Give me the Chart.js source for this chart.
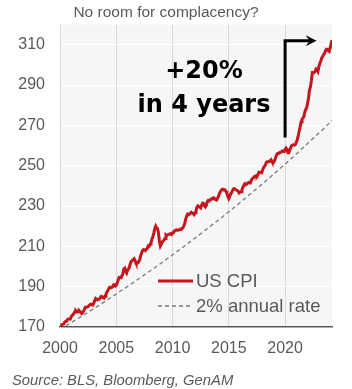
<!DOCTYPE html>
<html>
<head>
<meta charset="utf-8">
<script src="https://cdn.jsdelivr.net/npm/chart.js@4"></script>
<style>
  html, body { margin: 0; padding: 0; background: #ffffff; }
  #wrap { width: 352px; height: 389px; position: relative; }
</style>
</head>
<body>
<div id="wrap"><canvas id="c" width="352" height="389"></canvas></div>
<script>
// US CPI-U (1982-84 = 100), monthly from Jan 2000 to Mar 2024
const startYear = 2000;
const cpiIndex = [
  168.8, 169.8, 171.2, 171.3, 171.5, 172.4, 172.8, 172.8, 173.7, 174.0, 174.1, 174.0,
  175.1, 175.8, 176.2, 176.9, 177.7, 178.0, 177.5, 177.5, 178.3, 177.7, 177.4, 176.7,
  177.1, 177.8, 178.8, 179.8, 179.8, 179.9, 180.1, 180.7, 181.0, 181.3, 181.3, 180.9,
  181.7, 183.1, 184.2, 183.8, 183.5, 183.7, 183.9, 184.6, 185.2, 185.0, 184.5, 184.3,
  185.2, 186.2, 187.4, 188.0, 189.1, 189.7, 189.4, 189.5, 189.9, 190.9, 191.0, 190.3,
  190.7, 191.8, 193.3, 194.6, 194.4, 194.5, 195.4, 196.4, 198.8, 199.2, 197.6, 196.8,
  198.3, 198.7, 199.8, 201.5, 202.5, 202.9, 203.5, 203.9, 202.9, 201.8, 201.5, 201.8,
  202.4, 203.5, 205.4, 206.7, 207.9, 208.4, 208.3, 207.9, 208.5, 208.9, 210.2, 210.0,
  211.1, 211.7, 213.5, 214.8, 216.6, 218.8, 220.0, 219.1, 218.8, 216.6, 212.4, 210.2,
  211.1, 212.2, 212.7, 213.2, 213.9, 215.7, 215.4, 215.8, 216.0, 216.2, 216.3, 215.9,
  216.7, 216.7, 217.6, 218.0, 218.2, 218.0, 218.0, 218.3, 218.4, 218.7, 218.8, 219.2,
  220.2, 221.3, 223.5, 224.9, 226.0, 225.7, 225.9, 226.5, 226.9, 226.4, 226.2, 225.7,
  226.7, 227.7, 229.4, 230.1, 229.8, 229.5, 229.1, 230.4, 231.4, 231.3, 230.2, 229.6,
  230.3, 232.2, 232.8, 232.5, 232.9, 233.5, 233.6, 233.9, 234.1, 233.5, 233.1, 233.0,
  233.9, 234.8, 236.3, 237.1, 237.9, 238.3, 238.3, 237.9, 238.0, 237.4, 236.2, 234.8,
  233.7, 234.7, 236.1, 236.6, 237.8, 238.6, 238.7, 238.3, 237.9, 237.8, 237.3, 236.5,
  236.9, 237.1, 238.1, 239.3, 240.2, 241.0, 240.6, 240.8, 241.4, 241.7, 241.4, 241.4,
  242.8, 243.6, 243.8, 244.5, 244.7, 245.0, 244.8, 245.5, 246.8, 246.7, 246.7, 246.5,
  247.9, 249.0, 249.6, 250.5, 251.6, 252.0, 252.0, 252.1, 252.4, 252.9, 252.0, 251.2,
  251.7, 252.8, 254.2, 255.5, 256.1, 256.1, 256.6, 256.6, 256.8, 257.3, 257.2, 257.0,
  258.0, 258.7, 258.1, 256.4, 256.4, 257.8, 259.1, 259.9, 260.3, 260.4, 260.2, 260.5,
  261.6, 263.0, 264.9, 267.1, 269.2, 271.7, 273.0, 273.6, 274.3, 276.6, 277.9, 278.8,
  281.1, 283.7, 287.5, 289.1, 292.3, 296.3, 296.3, 296.2, 296.8, 298.0, 297.7, 296.8,
  299.2, 300.8, 301.8, 303.4, 304.1, 305.1, 305.7, 307.0, 307.8, 307.7, 307.1, 306.7,
  308.4, 310.3, 312.3
];

// Same starting level compounded at 2% a year, sampled each January plus the final month
const trendYears = [2000, 2001, 2002, 2003, 2004, 2005, 2006, 2007, 2008, 2009, 2010, 2011, 2012,
  2013, 2014, 2015, 2016, 2017, 2018, 2019, 2020, 2021, 2022, 2023, 2024, 2024 + 2 / 12];
const trendValues = [168.8, 172.2, 175.6, 179.1, 182.7, 186.4, 190.1, 193.9, 197.8, 201.7, 205.8, 209.9, 214.1,
  218.4, 222.7, 227.2, 231.7, 236.4, 241.1, 245.9, 250.8, 255.8, 261.0, 266.2, 271.5, 272.4];

const yTicks = [170, 190, 210, 230, 250, 270, 290, 310];
const xTicks = [2000, 2005, 2010, 2015, 2020];

const titleText = 'No room for complacency?';
const sourceText = 'Source: BLS, Bloomberg, GenAM';
const calloutLines = ['+20%', 'in 4 years'];
// Arrow path in data units: up from 2020, then right
const arrowFrom = { x: 2020, y: 264 };
const arrowCorner = { x: 2020, y: 312 };
const arrowTo = { x: 2022.8, y: 312 };

const RED = '#c4161c';
const GREY_TXT = '#595959';
const FONT = "'Liberation Sans', Arial, sans-serif";

const cpiPoints = cpiIndex.map((v, i) => ({ x: startYear + i / 12, y: v }));
const trendPoints = trendYears.map((x, i) => ({ x: x, y: trendValues[i] }));
const xMax = startYear + (cpiIndex.length - 1) / 12;

const decorPlugin = {
  id: 'decor',
  beforeDraw(chart) {
    const { ctx, chartArea: a } = chart;
    ctx.save();
    ctx.fillStyle = '#f6f6f6';
    ctx.fillRect(a.left, a.top, a.right - a.left, a.bottom - a.top);
    ctx.restore();
  },
  afterDraw(chart) {
    const { ctx, scales } = chart;
    const xs = scales.x, ys = scales.y;
    ctx.save();

    // title
    ctx.fillStyle = GREY_TXT;
    ctx.font = '15.5px ' + FONT;
    ctx.textAlign = 'center';
    ctx.textBaseline = 'alphabetic';
    ctx.fillText(titleText, 166, 17);

    // source note
    ctx.font = 'italic 14.8px ' + FONT;
    ctx.textAlign = 'left';
    ctx.fillText(sourceText, 12, 385);

    // call-out arrow
    const p0 = { x: xs.getPixelForValue(arrowFrom.x), y: ys.getPixelForValue(arrowFrom.y) };
    const p1 = { x: xs.getPixelForValue(arrowCorner.x), y: ys.getPixelForValue(arrowCorner.y) };
    const p2 = { x: xs.getPixelForValue(arrowTo.x), y: ys.getPixelForValue(arrowTo.y) };
    ctx.strokeStyle = '#000000';
    ctx.lineWidth = 3;
    ctx.lineJoin = 'miter';
    ctx.beginPath();
    ctx.moveTo(p0.x, p0.y);
    ctx.lineTo(p1.x, p1.y);
    ctx.lineTo(p2.x - 6, p2.y);
    ctx.stroke();
    ctx.fillStyle = '#000000';
    ctx.beginPath();
    ctx.moveTo(p2.x, p2.y);
    ctx.lineTo(p2.x - 11, p2.y - 5.5);
    ctx.lineTo(p2.x - 7, p2.y);
    ctx.lineTo(p2.x - 11, p2.y + 5.5);
    ctx.closePath();
    ctx.fill();

    // call-out text
    ctx.font = "bold 24px 'DejaVu Sans', sans-serif";
    ctx.textAlign = 'center';
    ctx.fillStyle = '#000000';
    ctx.fillText(calloutLines[0], 204, 78);
    ctx.fillText(calloutLines[1], 204, 112);

    // legend inside the plot
    const ds = chart.data.datasets;
    const lx0 = 158, lx1 = 193;
    const rows = [281, 306];
    ctx.font = '18.5px ' + FONT;
    ctx.textAlign = 'left';
    ctx.textBaseline = 'middle';
    ds.forEach((d, i) => {
      ctx.strokeStyle = d.borderColor;
      ctx.lineWidth = d.borderWidth;
      ctx.setLineDash(d.borderDash || []);
      ctx.beginPath();
      ctx.moveTo(lx0, rows[i]);
      ctx.lineTo(lx1, rows[i]);
      ctx.stroke();
      ctx.setLineDash([]);
      ctx.fillStyle = GREY_TXT;
      ctx.fillText(d.label, 196, rows[i] + 1);
    });
    ctx.restore();
  }
};

new Chart(document.getElementById('c'), {
  type: 'line',
  data: {
    datasets: [
      {
        label: 'US CPI',
        data: cpiPoints,
        borderColor: RED,
        borderWidth: 3,
        pointRadius: 0,
        tension: 0,
        order: 1
      },
      {
        label: '2% annual rate',
        data: trendPoints,
        borderColor: '#7a7a7a',
        borderWidth: 1.3,
        borderDash: [4, 3],
        pointRadius: 0,
        tension: 0,
        order: 2
      }
    ]
  },
  options: {
    responsive: false,
    animation: false,
    layout: { padding: { left: 0, right: 20, top: 24, bottom: 30 } },
    plugins: { legend: { display: false }, tooltip: { enabled: false }, title: { display: false } },
    scales: {
      x: {
        type: 'linear',
        min: startYear,
        max: xMax,
        afterBuildTicks: s => { s.ticks = xTicks.map(v => ({ value: v })); },
        afterFit: s => { s.height = 32; },
        grid: { color: '#d9d9d9', lineWidth: 1, drawTicks: false },
        border: { color: '#595959', width: 1.5 },
        ticks: { color: GREY_TXT, font: { family: FONT, size: 16 }, padding: 12, maxRotation: 0,
                 callback: v => String(v) }
      },
      y: {
        min: 170,
        max: 320,
        afterBuildTicks: s => { s.ticks = yTicks.map(v => ({ value: v })); },
        afterFit: s => { s.width = 60; },
        grid: { color: '#ffffff', lineWidth: 1, drawTicks: false },
        border: { color: '#dcdcdc', width: 1 },
        ticks: { color: GREY_TXT, font: { family: FONT, size: 16 }, padding: 15 }
      }
    }
  },
  plugins: [decorPlugin]
});
</script>
</body>
</html>
